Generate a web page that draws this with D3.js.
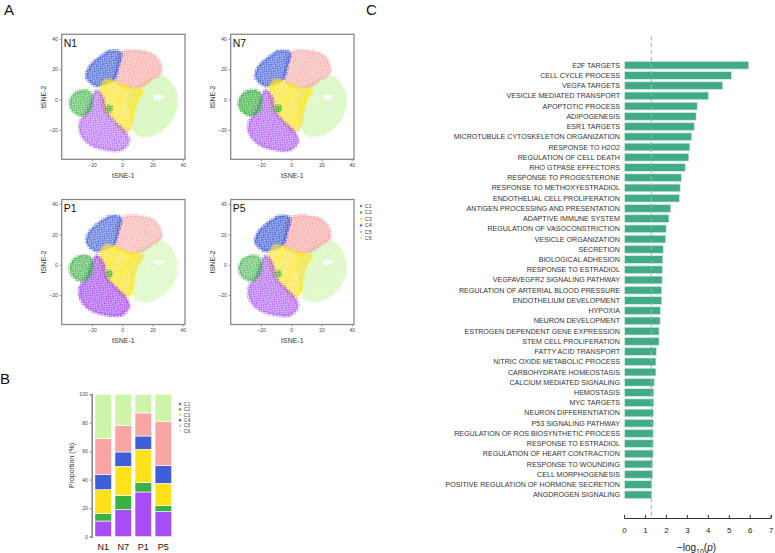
<!DOCTYPE html>
<html>
<head>
<meta charset="utf-8">
<script src="https://cdn.jsdelivr.net/npm/d3@7.9.0/dist/d3.min.js"></script>
<style>
  body { margin: 0; background: #fff; }
  svg text { font-family: "Liberation Sans", Arial, sans-serif; }
</style>
</head>
<body>
<svg id="fig" width="775" height="553"></svg>
<script>
// ---- data ----
const clusters = ['C1', 'C2', 'C3', 'C4', 'C5', 'C6'];
const clusterColors = ['#a64df5', '#3bb143', '#ffe21a', '#3e5fd9', '#f8a5a3', '#cdf5aa'];
const samples = ['N1', 'N7', 'P1', 'P5'];

// cluster proportions (%) per sample, C1..C6
const propN1 = [11.0, 5.4, 16.6, 10.8, 25.1, 31.1];
const propN7 = [19.0, 10.0, 20.4, 10.1, 18.5, 22.0];
const propP1 = [31.4, 6.8, 23.2, 9.3, 16.2, 13.1];
const propP5 = [17.6, 4.2, 15.7, 12.6, 30.7, 19.2];

// cluster outlines on the tSNE plane (tSNE-1, tSNE-2); a second ring is a hole
const shapeC1 = [[[-17, 6], [-12.5, 1], [-10.5, -8], [-5, -14.5], [1.5, -20.5], [4.5, -27], [0, -33],
  [-10.5, -33], [-21.4, -29.5], [-27.5, -22.4], [-28, -15], [-23.6, -8], [-21, -1]]];
const shapeC2 = [[[-26.9, 6], [-21.4, 5], [-19.5, -0.4], [-21, -7], [-27, -10.5], [-33.4, -6.5], [-34.3, -0.4], [-31.5, 4]]];
const shapeC2b = [[[-10, -4.5], [-7.5, -4.2], [-7, -7], [-9.5, -8]]];
const shapeC3 = [[[-10.5, 13], [-3, 11], [5, 8], [13.6, 6], [10, -0.4], [7.5, -9.2], [5.5, -19.5], [0.4, -21],
  [-4.5, -15], [-9, -10.5], [-12.5, -6], [-14.5, 2], [-14, 9]]];
const shapeC4 = [[[-8.3, 32], [-1, 31], [-2.5, 22], [-5.5, 13], [-10, 11], [-17, 9], [-23.5, 14.5], [-22.5, 20.4],
  [-17.5, 26], [-12.7, 29.5]]];
const shapeC5 = [[[2.6, 32], [11.4, 32], [20.5, 29.5], [25, 23.7], [25.5, 17.5], [20, 13.5], [13.6, 9],
  [7, 7.5], [0, 9], [-4.5, 12.5], [-4, 21.5], [-2.5, 28.5]]];
const shapeC6 = [[[13, 10.5], [20, 14], [27, 15], [33, 9.5], [36, -0.4], [34, -10.3], [27, -19.1], [17, -24],
  [9.5, -22.5], [7, -15.8], [5, -7], [4, 0.7], [7, 6]],
  [[20, 2.5], [25, 4], [28.5, 2.2], [27, 0.3], [22, -0.8]]];
const shapes = [shapeC1, shapeC2, shapeC3, shapeC4, shapeC5, shapeC6];

// enrichment terms and -log10(p)
const terms = ['E2F TARGETS', 'CELL CYCLE PROCESS', 'VEGFA TARGETS', 'VESICLE MEDIATED TRANSPORT',
  'APOPTOTIC PROCESS', 'ADIPOGENESIS', 'ESR1 TARGETS', 'MICROTUBULE CYTOSKELETON ORGANIZATION',
  'RESPONSE TO H2O2', 'REGULATION OF CELL DEATH', 'RHO GTPASE EFFECTORS', 'RESPONSE TO PROGESTERONE',
  'RESPONSE TO METHOXYESTRADIOL', 'ENDOTHELIAL CELL PROLIFERATION', 'ANTIGEN PROCESSING AND PRESENTATION',
  'ADAPTIVE IMMUNE SYSTEM', 'REGULATION OF VASOCONSTRICTION', 'VESICLE ORGANIZATION', 'SECRETION',
  'BIOLOGICAL ADHESION', 'RESPONSE TO ESTRADIOL', 'VEGFAVEGFR2 SIGNALING PATHWAY',
  'REGULATION OF ARTERIAL BLOOD PRESSURE', 'ENDOTHELIUM DEVELOPMENT', 'HYPOXIA', 'NEURON DEVELOPMENT',
  'ESTROGEN DEPENDENT GENE EXPRESSION', 'STEM CELL PROLIFERATION', 'FATTY ACID TRANSPORT',
  'NITRIC OXIDE METABOLIC PROCESS', 'CARBOHYDRATE HOMEOSTASIS', 'CALCIUM MEDIATED SIGNALING',
  'HEMOSTASIS', 'MYC TARGETS', 'NEURON DIFFERENTIATION', 'P53 SIGNALING PATHWAY',
  'REGULATION OF ROS BIOSYNTHETIC PROCESS', 'RESPONSE TO ESTRADIOL', 'REGULATION OF HEART CONTRACTION',
  'RESPONSE TO WOUNDING', 'CELL MORPHOGENESIS', 'POSITIVE REGULATION OF HORMONE SECRETION',
  'ANGDROGEN SIGNALING'];
const logP = [5.93, 5.11, 4.69, 4.01, 3.47, 3.42, 3.33, 3.21, 3.12, 3.07, 2.90, 2.72, 2.66, 2.63, 2.21,
  2.12, 1.99, 1.97, 1.85, 1.83, 1.81, 1.80, 1.78, 1.78, 1.72, 1.70, 1.65, 1.65, 1.53, 1.50, 1.50, 1.42,
  1.40, 1.40, 1.38, 1.38, 1.37, 1.37, 1.37, 1.35, 1.35, 1.30, 1.30];
const pCutoff = 0.05;

const propTable = samples.map((s, i) => ({ sample: s, values: [propN1, propN7, propP1, propP5][i] }));

// ---- drawing ----
const svg = d3.select('#fig');
const defs = svg.append('defs');
const axisGray = '#8a8a8a';

function panelLetter(t, x, y) {
  svg.append('text').attr('x', x).attr('y', y).attr('font-size', 15).attr('fill', '#111').text(t);
}
panelLetter('A', 4, 15);
panelLetter('B', 0, 384);
panelLetter('C', 366, 15);

// dot textures standing in for the single cells
const dotPos = [[0, 0], [3, 1], [1, 2], [4, 3], [2, 4], [2, 0.5], [0, 3.2], [3.6, 4.4], [4.2, 1.6]];
clusterColors.forEach((c, i) => {
  const p = defs.append('pattern')
    .attr('id', 'dots' + i)
    .attr('patternUnits', 'userSpaceOnUse')
    .attr('width', 5).attr('height', 5)
    .attr('patternTransform', 'rotate(23)');
  p.selectAll('rect').data(dotPos).join('rect')
    .attr('x', d => d[0]).attr('y', d => d[1])
    .attr('width', 1.15).attr('height', 1.15)
    .attr('fill', c);
});

const maxProp = clusters.map((c, i) => d3.max(propTable, d => d.values[i]));

function renderTsne(row, left, top) {
  const w = 123.3, h = 125;
  const x = d3.scaleLinear().domain([-40, 41.5]).range([left, left + w]);
  const y = d3.scaleLinear().domain([-39.3, 43]).range([top + h, top]);
  const g = svg.append('g');

  const clipId = 'clip' + row.sample;
  defs.append('clipPath').attr('id', clipId)
    .append('rect').attr('x', left).attr('y', top).attr('width', w).attr('height', h);

  const blob = d3.line().x(d => x(d[0])).y(d => y(d[1])).curve(d3.curveCatmullRomClosed.alpha(0.5));
  const cells = g.append('g').attr('clip-path', `url(#${clipId})`);
  const layers = [[5, shapeC6], [4, shapeC5], [3, shapeC4], [2, shapeC3], [0, shapeC1], [1, shapeC2], [1, shapeC2b]];
  layers.forEach(([i, rings]) => {
    const dens = 0.6 + 0.4 * row.values[i] / maxProp[i];
    const d = rings.map(r => blob(r)).join('');
    cells.append('path').attr('d', d).attr('fill-rule', 'evenodd')
      .attr('fill', clusterColors[i]).attr('fill-opacity', 0.45 * dens);
    cells.append('path').attr('d', d).attr('fill-rule', 'evenodd')
      .attr('fill', `url(#dots${i})`).attr('opacity', dens)
      .attr('stroke', `url(#dots${i})`).attr('stroke-width', 3.5);
  });

  g.append('rect').attr('x', left).attr('y', top).attr('width', w).attr('height', h)
    .attr('fill', 'none').attr('stroke', axisGray).attr('stroke-width', 1.3);

  const xAxis = g.append('g').attr('transform', `translate(0,${top + h})`)
    .call(d3.axisBottom(x).tickValues([-20, 0, 20, 40]).tickSize(2).tickPadding(2));
  const yAxis = g.append('g').attr('transform', `translate(${left},0)`)
    .call(d3.axisLeft(y).tickValues([-20, 0, 20, 40]).tickSize(2).tickPadding(2));
  [xAxis, yAxis].forEach(a => {
    a.select('.domain').remove();
    a.selectAll('line').attr('stroke', axisGray);
    a.selectAll('text').attr('font-size', 5).attr('fill', '#444').attr('font-family', '"Liberation Sans", Arial, sans-serif');
  });

  g.append('text').attr('x', left + w / 2).attr('y', top + h + 18.5)
    .attr('text-anchor', 'middle').attr('font-size', 7).attr('fill', '#333').text('tSNE-1');
  g.append('text').attr('transform', `translate(${left - 16},${top + h / 2}) rotate(-90)`)
    .attr('text-anchor', 'middle').attr('font-size', 7).attr('fill', '#333').text('tSNE-2');
  g.append('text').attr('x', left + 2).attr('y', top + 12.5)
    .attr('font-size', 10.5).attr('fill', '#111').text(row.sample);
}

const tsnePos = [[61.7, 34.3], [230.7, 34.3], [61.7, 199.5], [230.7, 199.5]];
propTable.forEach((row, i) => renderTsne(row, tsnePos[i][0], tsnePos[i][1]));

function legend(x0, y0, step, size) {
  const lg = svg.append('g');
  clusters.forEach((c, i) => {
    lg.append('circle').attr('cx', x0).attr('cy', y0 + i * step).attr('r', 1.2)
      .attr('fill', clusterColors[i]);
    lg.append('text').attr('x', x0 + 3.8).attr('y', y0 + i * step + size * 0.36)
      .attr('font-size', size).attr('fill', '#444').text(c);
  });
}
legend(361, 206, 6.45, 5.4);

// ---- panel B ----
{
  const yB = d3.scaleLinear().domain([0, 100]).range([536.7, 394.3]);
  const xB = d3.scaleBand().domain(samples).range([93.3, 173.3]).paddingInner(0.17).paddingOuter(0.08);
  const stack = d3.stack().keys(d3.range(6)).value((d, k) => d.values[k]);
  const series = stack(propTable);

  const gb = svg.append('g');
  gb.selectAll('g.layer').data(series).join('g').attr('class', 'layer')
    .attr('fill', (d, i) => clusterColors[i])
    .selectAll('rect').data(d => d).join('rect')
    .attr('x', d => xB(d.data.sample))
    .attr('width', xB.bandwidth())
    .attr('y', d => yB(d[1]))
    .attr('height', d => yB(d[0]) - yB(d[1]))
    .attr('stroke', '#fff').attr('stroke-width', 0.6);

  const ya = gb.append('g').attr('transform', 'translate(91.7,0)')
    .call(d3.axisLeft(yB).tickValues([0, 20, 40, 60, 80, 100]).tickSize(2).tickPadding(2));
  ya.select('.domain').attr('stroke', axisGray).attr('stroke-width', 1.6);
  ya.selectAll('line').attr('stroke', axisGray);
  ya.selectAll('text').attr('font-size', 5).attr('fill', '#444').attr('font-family', '"Liberation Sans", Arial, sans-serif');

  gb.append('text').attr('transform', 'translate(74,465.5) rotate(-90)')
    .attr('text-anchor', 'middle').attr('font-size', 7).attr('fill', '#333').text('Proportion (%)');

  gb.selectAll('text.samp').data(samples).join('text').attr('class', 'samp')
    .attr('x', d => xB(d) + xB.bandwidth() / 2).attr('y', 549.5)
    .attr('text-anchor', 'middle').attr('font-size', 9).attr('fill', '#111').text(d => d);

  legend(180, 404, 5.4, 5);
}

// ---- panel C ----
{
  const xC = d3.scaleLinear().domain([0, 7]).range([624, 770.7]);
  const yC = d3.scaleBand().domain(d3.range(terms.length)).range([58.85, 501.15]).padding(0.24);
  const gc = svg.append('g');

  gc.selectAll('rect').data(logP).join('rect')
    .attr('x', xC(0) + 0.5)
    .attr('y', (d, i) => yC(i))
    .attr('width', d => xC(d) - xC(0))
    .attr('height', yC.bandwidth())
    .attr('fill', '#41ab88')
    .attr('stroke', '#d9efe6').attr('stroke-width', 0.7);

  gc.selectAll('text.term').data(terms).join('text').attr('class', 'term')
    .attr('x', 620).attr('y', (d, i) => yC(i) + yC.bandwidth() / 2).attr('dy', '0.35em')
    .attr('text-anchor', 'end').attr('font-size', 7.1).attr('fill', '#333').text(d => d);

  const cut = xC(-Math.log10(pCutoff));
  gc.append('line').attr('x1', cut).attr('x2', cut).attr('y1', 36).attr('y2', 518)
    .attr('stroke', '#aaa').attr('stroke-width', 1).attr('stroke-dasharray', '4,3');

  const xa = gc.append('g').attr('transform', 'translate(0,518)')
    .call(d3.axisBottom(xC).ticks(7).tickSize(-3).tickPadding(9));
  xa.select('.domain').attr('stroke', '#333').attr('stroke-width', 1);
  xa.selectAll('line').attr('stroke', '#333');
  xa.selectAll('text').attr('font-size', 8).attr('fill', '#222').attr('font-family', '"Liberation Sans", Arial, sans-serif');

  const title = gc.append('text').attr('x', 696.5).attr('y', 551)
    .attr('text-anchor', 'middle').attr('font-size', 10).attr('fill', '#222');
  title.append('tspan').text('\u2212log');
  title.append('tspan').attr('font-size', 7).attr('dy', 2.5).text('10');
  title.append('tspan').attr('dy', -2.5).text('(');
  title.append('tspan').attr('font-style', 'italic').text('p');
  title.append('tspan').text(')');
}
</script>
</body>
</html>
